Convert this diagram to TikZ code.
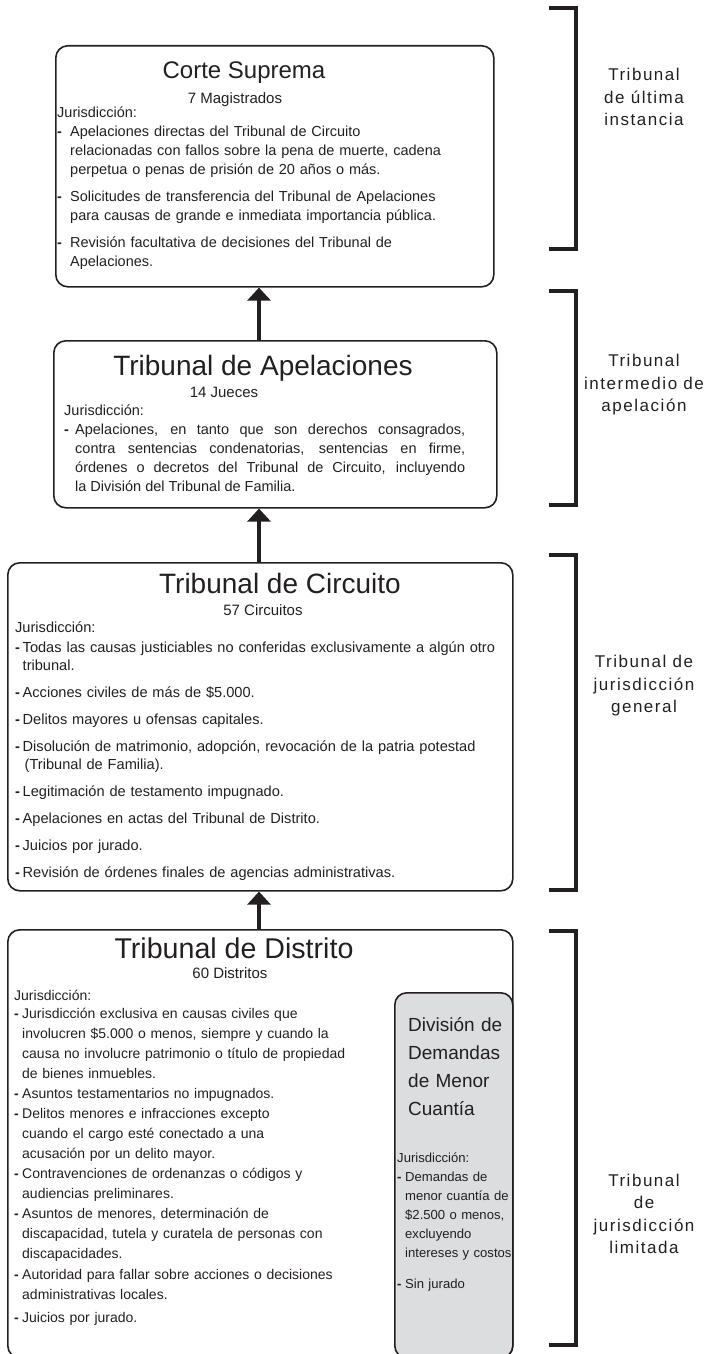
\documentclass[tikz,border=0pt]{standalone}
\usepackage{fontspec}
\setmainfont{Liberation Sans}
\usetikzlibrary{arrows.meta}
\definecolor{tinta}{HTML}{231F20}
\definecolor{grisdiv}{HTML}{DCDDDF}
\newlength{\sangria}
\newcommand{\espacio}{8pt}
\newcommand{\guion}[1][\espacio]{\par\vspace{#1}\hangindent=\sangria\hangafter=1\noindent\makebox[\sangria][l]{\textbf{-}}\ignorespaces}
\tikzset{
  caja/.style={draw=tinta, line width=1.6pt, rounded corners=12pt, anchor=north west, inner sep=0pt},
  titulo/.style={font=\fontsize{28}{30}\selectfont, text=tinta, anchor=base, inner sep=0pt},
  subtitulo/.style={font=\fontsize{15}{17}\selectfont, text=tinta, anchor=base, inner sep=0pt},
  cuerpo/.style={font=\fontsize{14.5}{19}\selectfont, text=tinta, anchor=base west, inner sep=0pt, align=left, text width=#1},
  flecha/.style={-{Triangle[width=23pt,length=13pt]}, line width=3.5pt, draw=tinta},
  llave/.style={line width=3.2pt, draw=tinta},
  nivel/.style={font=\fontsize{17}{22.5}\selectfont\addfontfeature{LetterSpace=9}, text=tinta, align=center, inner sep=0pt}
}
\begin{document}
\begin{tikzpicture}[x=1pt,y=-1pt]
\useasboundingbox (0,0) rectangle (714,1354);
% cajas
\node[caja, minimum width=438pt, minimum height=241pt] (cs) at (55,45) {};
\node[caja, minimum width=443pt, minimum height=167pt] (ta) at (53,340) {};
\node[caja, minimum width=505pt, minimum height=328pt] (tc) at (7,562) {};
\node[caja, minimum width=505pt, minimum height=428pt] (td) at (7,929) {};
\node[caja, fill=grisdiv, minimum width=118pt, minimum height=365pt] (dm) at (394,992) {};
% flechas
\coordinate (eje) at (259,0);
\draw[flecha] (ta.north -| eje) -- (cs.south -| eje);
\draw[flecha] (tc.north -| eje) -- (ta.south -| eje);
\draw[flecha] (td.north -| eje) -- (tc.south -| eje);
% Corte Suprema
\node[titulo, font=\fontsize{24}{26}\selectfont] (cs-t) at (244,78) {Corte Suprema};
\node[subtitulo] (cs-s) at (235,103) {7 Magistrados};
\node[cuerpo=440pt] (cs-c) at (57,117) {\setlength{\sangria}{13pt}\renewcommand{\espacio}{8pt}%
Jurisdicción:
\guion[0pt] Apelaciones directas del Tribunal de Circuito\newline relacionadas con fallos sobre la pena de muerte, cadena\newline perpetua o penas de prisión de 20 años o más.
\guion Solicitudes de transferencia del Tribunal de Apelaciones\newline para causas de grande e inmediata importancia pública.
\guion Revisión facultativa de decisiones del Tribunal de\newline Apelaciones.\par};
% Tribunal de Apelaciones
\node[titulo] (ta-t) at (263,375) {Tribunal de Apelaciones};
\node[subtitulo] (ta-s) at (224,397) {14 Jueces};
\node[cuerpo=401pt, align=justify] (ta-c) at (64,415) {\setlength{\sangria}{11pt}\hyphenpenalty=10000
Jurisdicción:
\guion[0pt] Apelaciones, en tanto que son derechos consagrados,\linebreak contra sentencias condenatorias, sentencias en firme,\linebreak órdenes o decretos del Tribunal de Circuito, incluyendo\linebreak la División del Tribunal de Familia.\par};
% Tribunal de Circuito
\node[titulo] (tc-t) at (280,593) {Tribunal de Circuito};
\node[subtitulo] (tc-s) at (263,615) {57 Circuitos};
\node[cuerpo=490pt, font=\fontsize{14.6}{18}\selectfont] (tc-c) at (15,632) {\setlength{\sangria}{7.5pt}\renewcommand{\espacio}{9pt}%
Jurisdicción:
\guion[2pt] Todas las causas justiciables no conferidas exclusivamente a algún otro\newline tribunal.
\guion Acciones civiles de más de \$5.000.
\guion Delitos mayores u ofensas capitales.
\guion Disolución de matrimonio, adopción, revocación de la patria potestad\newline\hspace*{2pt}(Tribunal de Familia).
\guion Legitimación de testamento impugnado.
\guion Apelaciones en actas del Tribunal de Distrito.
\guion Juicios por jurado.
\guion Revisión de órdenes finales de agencias administrativas.\par};
% Tribunal de Distrito
\node[titulo, font=\fontsize{28.6}{30}\selectfont] (td-t) at (234,958) {Tribunal de Distrito};
\node[subtitulo] (td-s) at (230,978) {60 Distritos};
\node[cuerpo=370pt, font=\fontsize{14}{20}\selectfont] (td-c) at (14,1000) {\setlength{\sangria}{8pt}\renewcommand{\espacio}{0pt}%
Jurisdicción:
\guion[-2pt] Jurisdicción exclusiva en causas civiles que\newline involucren \$5.000 o menos, siempre y cuando la\newline causa no involucre patrimonio o título de propiedad\newline de bienes inmuebles.
\guion Asuntos testamentarios no impugnados.
\guion Delitos menores e infracciones excepto\newline cuando el cargo esté conectado a una\newline acusación por un delito mayor.
\guion Contravenciones de ordenanzas o códigos y\newline audiencias preliminares.
\guion Asuntos de menores, determinación de\newline discapacidad, tutela y curatela de personas con\newline discapacidades.
\guion[1pt] Autoridad para fallar sobre acciones o decisiones\newline administrativas locales.
\guion[3pt] Juicios por jurado.\par};
% División de Demandas de Menor Cuantía
\node[cuerpo=110pt, font=\fontsize{19}{28}\selectfont] (dm-t) at (408,1031) {División de\\Demandas\\de Menor\\Cuantía};
\node[cuerpo=150pt, font=\fontsize{13.1}{19}\selectfont] (dm-c) at (397,1162) {\setlength{\sangria}{8pt}\renewcommand{\espacio}{12pt}\hyphenpenalty=10000
Jurisdicción:
\guion[0pt] Demandas de\newline menor cuantía de\newline \$2.500 o menos,\newline excluyendo\newline intereses y costos
\guion Sin jurado\par};
% llaves y niveles
\foreach \ya/\yb in {8/249, 291/505, 555/890, 931/1345}
  \draw[llave] (549,\ya) -- (576,\ya) -- (576,\yb) -- (549,\yb);
\node[nivel] (n1) at (644,97) {Tribunal\\de última\\instancia};
\node[nivel] (n2) at (644,385) {Tribunal\\intermedio de\\apelación};
\node[nivel] (n3) at (644,686) {Tribunal de\\jurisdicción\\general};
\node[nivel] (n4) at (644,1214) {Tribunal\\de\\jurisdicción\\limitada};
\end{tikzpicture}
\end{document}
